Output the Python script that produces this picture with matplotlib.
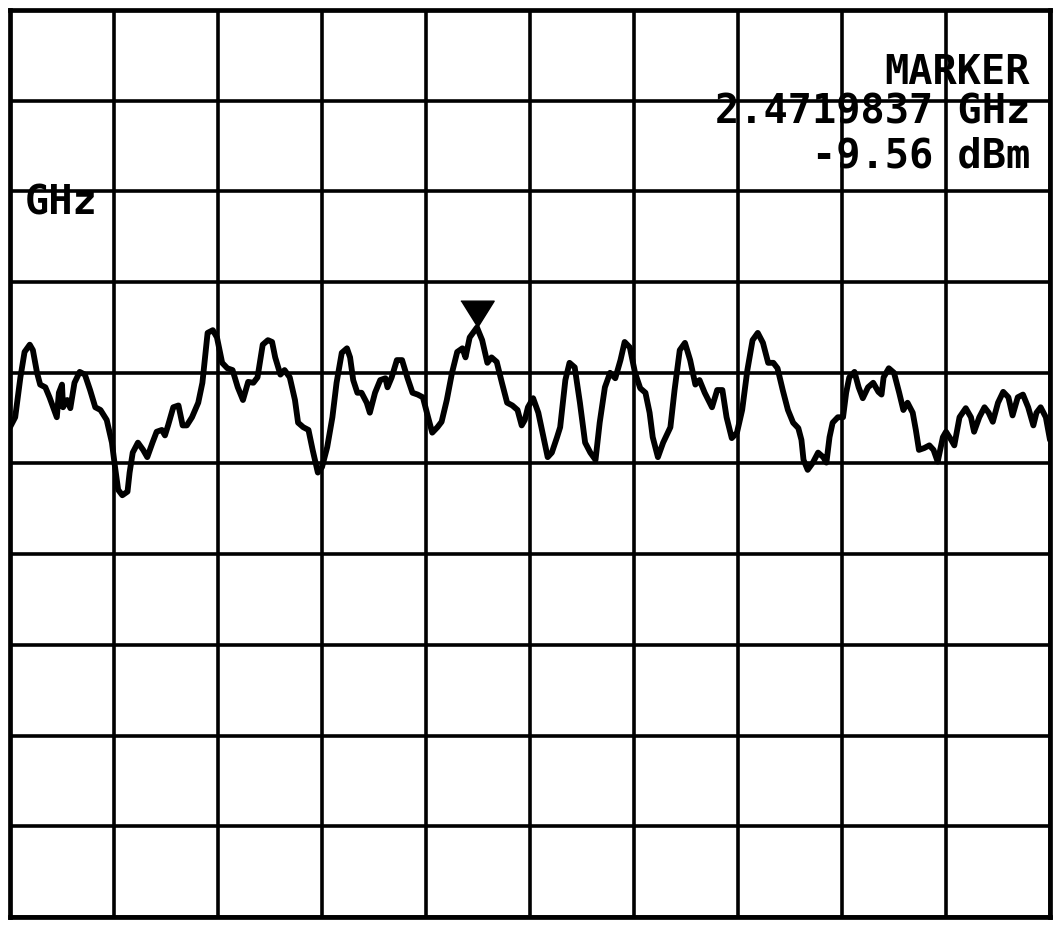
import matplotlib
matplotlib.use('Agg')
import matplotlib.pyplot as plt
import matplotlib.transforms as mtransforms
from matplotlib import font_manager

# yatay eksen: bolme (0-10), dikey eksen: bolme (0 alt, 10 ust)
frekans_div = [0.00, 0.05, 0.10, 0.14, 0.19, 0.22, 0.26, 0.29, 0.34, 0.38,
               0.45, 0.47, 0.50, 0.51, 0.55, 0.58, 0.62, 0.67, 0.72, 0.77,
               0.82, 0.87, 0.93, 0.98, 1.01, 1.04, 1.08, 1.13, 1.15, 1.18,
               1.23, 1.28, 1.32, 1.37, 1.41, 1.46, 1.49, 1.52, 1.57, 1.62,
               1.66, 1.70, 1.75, 1.81, 1.85, 1.88, 1.90, 1.95, 1.99, 2.04,
               2.09, 2.14, 2.19, 2.24, 2.29, 2.34, 2.38, 2.43, 2.48, 2.52,
               2.55, 2.60, 2.64, 2.69, 2.74, 2.77, 2.82, 2.87, 2.91, 2.96,
               3.00, 3.05, 3.10, 3.14, 3.19, 3.24, 3.27, 3.30, 3.34, 3.38,
               3.43, 3.46, 3.51, 3.56, 3.61, 3.63, 3.67, 3.72, 3.77, 3.82,
               3.87, 3.92, 3.97, 4.02, 4.06, 4.11, 4.15, 4.20, 4.25, 4.30,
               4.35, 4.38, 4.42, 4.49, 4.54, 4.59, 4.63, 4.68, 4.73, 4.78,
               4.83, 4.88, 4.92, 4.95, 4.98, 5.03, 5.08, 5.13, 5.17, 5.21,
               5.26, 5.29, 5.34, 5.38, 5.43, 5.48, 5.53, 5.58, 5.63, 5.67,
               5.72, 5.77, 5.82, 5.87, 5.91, 5.96, 6.01, 6.06, 6.11, 6.15,
               6.18, 6.23, 6.28, 6.35, 6.39, 6.44, 6.49, 6.54, 6.59, 6.63,
               6.68, 6.75, 6.80, 6.85, 6.89, 6.94, 6.99, 7.04, 7.09, 7.14,
               7.19, 7.24, 7.29, 7.34, 7.38, 7.43, 7.48, 7.53, 7.58, 7.61,
               7.63, 7.67, 7.72, 7.77, 7.82, 7.85, 7.88, 7.91, 7.96, 8.01,
               8.04, 8.07, 8.12, 8.16, 8.20, 8.25, 8.30, 8.35, 8.38, 8.40,
               8.45, 8.50, 8.55, 8.59, 8.63, 8.68, 8.71, 8.74, 8.79, 8.84,
               8.88, 8.92, 8.97, 9.00, 9.05, 9.08, 9.13, 9.19, 9.24, 9.27,
               9.32, 9.37, 9.41, 9.45, 9.50, 9.55, 9.60, 9.64, 9.69, 9.74,
               9.79, 9.84, 9.87, 9.91, 9.96, 10.00]

genlik_div = [5.40, 5.51, 5.95, 6.23, 6.31, 6.25, 6.00, 5.87, 5.84, 5.73,
              5.51, 5.78, 5.87, 5.62, 5.70, 5.61, 5.89, 6.01, 5.98, 5.81,
              5.62, 5.59, 5.48, 5.23, 4.96, 4.71, 4.65, 4.69, 4.90, 5.12,
              5.23, 5.15, 5.07, 5.23, 5.35, 5.37, 5.31, 5.42, 5.62, 5.64,
              5.42, 5.42, 5.51, 5.67, 5.89, 6.22, 6.44, 6.47, 6.39, 6.11,
              6.05, 6.03, 5.84, 5.70, 5.90, 5.89, 5.95, 6.31, 6.36, 6.34,
              6.17, 5.98, 6.03, 5.95, 5.70, 5.45, 5.40, 5.37, 5.15, 4.90,
              4.96, 5.18, 5.51, 5.89, 6.22, 6.27, 6.17, 5.92, 5.78, 5.78,
              5.67, 5.56, 5.78, 5.92, 5.94, 5.84, 5.95, 6.14, 6.14, 5.95,
              5.78, 5.76, 5.73, 5.51, 5.34, 5.40, 5.46, 5.70, 6.00, 6.23,
              6.27, 6.17, 6.39, 6.50, 6.36, 6.11, 6.17, 6.12, 5.89, 5.67,
              5.64, 5.59, 5.42, 5.48, 5.62, 5.72, 5.56, 5.29, 5.07, 5.12,
              5.29, 5.40, 5.92, 6.11, 6.06, 5.67, 5.23, 5.12, 5.04, 5.45,
              5.84, 6.00, 5.94, 6.14, 6.34, 6.28, 6.00, 5.83, 5.78, 5.56,
              5.29, 5.07, 5.23, 5.40, 5.81, 6.25, 6.33, 6.14, 5.87, 5.92,
              5.78, 5.62, 5.81, 5.81, 5.51, 5.28, 5.34, 5.59, 6.03, 6.36,
              6.44, 6.33, 6.11, 6.11, 6.05, 5.81, 5.59, 5.45, 5.39, 5.26,
              5.04, 4.93, 5.01, 5.12, 5.07, 5.01, 5.29, 5.45, 5.51, 5.51,
              5.78, 5.95, 6.01, 5.84, 5.72, 5.84, 5.89, 5.79, 5.76, 5.95,
              6.05, 6.00, 5.78, 5.59, 5.67, 5.56, 5.37, 5.15, 5.17, 5.20,
              5.15, 5.02, 5.29, 5.35, 5.26, 5.20, 5.51, 5.61, 5.51, 5.35,
              5.51, 5.62, 5.56, 5.46, 5.67, 5.79, 5.73, 5.53, 5.73, 5.76,
              5.62, 5.42, 5.56, 5.62, 5.51, 5.26]

marker_frekans = 4.49
marker_genlik = 6.50

marker_yazilari = ['MARKER', '2.4719837 GHz', '-9.56 dBm']
sol_yazi = 'GHz'

# dar bir yazi tipi varsa onu kullan
mevcut = {f.name for f in font_manager.fontManager.ttflist}
if 'Liberation Sans Narrow' in mevcut:
    yazi_tipi = 'Liberation Sans Narrow'
    boyut = 38
else:
    yazi_tipi = 'DejaVu Sans Mono'
    boyut = 29

fig = plt.figure(figsize=(10.56, 9.30), dpi=100)
ax = fig.add_axes([10 / 1056, 13 / 930, 1040 / 1056, 907 / 930])

ax.set_xlim(0, 10)
ax.set_ylim(0, 10)
ax.set_xticks(range(11))
ax.set_yticks(range(11))
ax.tick_params(length=0, labelbottom=False, labelleft=False)
ax.grid(True, color='black', linewidth=2.6)
for kenar in ax.spines.values():
    kenar.set_color('black')
    kenar.set_linewidth(3.4)

# iz (trace)
ax.plot(frekans_div, genlik_div, color='black', linewidth=4.2,
        solid_joinstyle='round', solid_capstyle='round', zorder=3)

# marker ucgeni, ucu tepe noktasinda
ucgen = [(-1, 0.8), (1, 0.8), (0, -0.8)]
kaydir = mtransforms.offset_copy(ax.transData, fig=fig, x=0, y=9.6, units='points')
ax.plot([marker_frekans], [marker_genlik], marker=ucgen, markersize=24,
        color='black', linestyle='none', transform=kaydir, zorder=4)

# marker yazilari
satir_y = [0.918, 0.875, 0.826]
for yazi, yy in zip(marker_yazilari, satir_y):
    ax.text(0.981, yy, yazi, transform=ax.transAxes, ha='right', va='baseline',
            fontsize=boyut, family=yazi_tipi, fontweight='bold', color='black', zorder=5)

ax.text(0.0837, 0.774, sol_yazi, transform=ax.transAxes, ha='right', va='baseline',
        fontsize=boyut, family=yazi_tipi, fontweight='bold', color='black', zorder=5)

plt.savefig('out.png', dpi=100)
